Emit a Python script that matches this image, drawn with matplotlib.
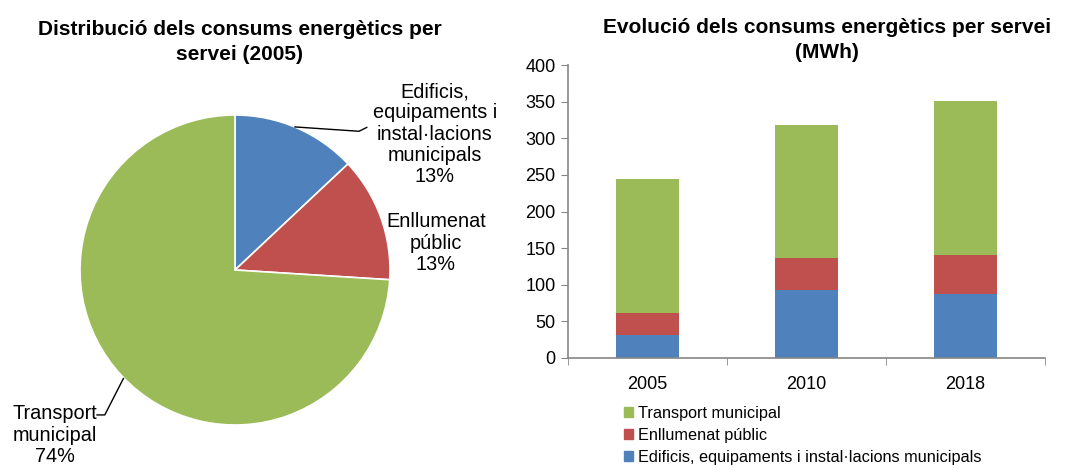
import matplotlib
matplotlib.use("Agg")
import matplotlib.pyplot as plt
from matplotlib.patches import Patch

plt.rcParams["font.family"] = ["Liberation Sans", "DejaVu Sans"]

# dades
anys = ["2005", "2010", "2018"]
edificis = [31, 93, 88]
enllumenat = [31, 43, 53]
transport = [183, 182, 210]

pie_pct = [13, 13, 74]
pie_noms = ["Edificis,\nequipaments i\ninstal·lacions\nmunicipals", "Enllumenat\npúblic",
            "Transport\nmunicipal"]

c_blau = "#4F81BD"
c_verm = "#C0504D"
c_verd = "#9BBB59"

W, H = 1065, 467
fig = plt.figure(figsize=(W / 100, H / 100), dpi=100)


def rect(x0, y0, x1, y1):
    # pixels (origen a dalt a l'esquerra) -> fraccio de figura
    return [x0 / W, 1 - y1 / H, (x1 - x0) / W, (y1 - y0) / H]


# --- pastis ---
ax1 = fig.add_axes(rect(80, 115, 390, 425))
ax1.pie(pie_pct, colors=[c_blau, c_verm, c_verd], startangle=90, counterclock=False,
        radius=1, wedgeprops=dict(edgecolor="white", linewidth=1.2))
ax1.set_xlim(-1, 1)
ax1.set_ylim(-1, 1)
ax1.set_aspect("equal")

posicions = [(1.29, 0.877), (1.296, 0.174), (-1.16, -1.065)]
for nom, p, (x, y) in zip(pie_noms, pie_pct, posicions):
    ax1.text(x, y, f"{nom}\n{p}%", ha="center", va="center", fontsize=14.3,
             linespacing=1.15, clip_on=False)

ax1.plot([0.387, 0.80, 0.85], [0.923, 0.895, 0.92], color="black", lw=1, clip_on=False)
ax1.plot([-0.72, -0.84, -0.89], [-0.70, -0.935, -0.935], color="black", lw=1, clip_on=False)

fig.text(240 / W, 1 - 42 / H, "Distribució dels consums energètics per\nservei (2005)",
         ha="center", va="center", fontsize=15, fontweight="bold", linespacing=1.45)

# --- barres ---
ax2 = fig.add_axes(rect(568, 65, 1045, 358))
x = range(len(anys))
amp = 0.39
ax2.bar(x, edificis, amp, color=c_blau)
base2 = [a for a in edificis]
ax2.bar(x, enllumenat, amp, bottom=base2, color=c_verm)
base3 = [a + b for a, b in zip(edificis, enllumenat)]
ax2.bar(x, transport, amp, bottom=base3, color=c_verd)

ax2.set_xlim(-0.5, 2.5)
ax2.set_ylim(0, 400)
ax2.set_yticks(range(0, 401, 50))
ax2.set_xticks(list(x))
ax2.set_xticklabels(anys)
ax2.set_xticks([-0.5, 0.5, 1.5, 2.5], minor=True)
ax2.tick_params(axis="x", which="major", length=0, pad=13, labelsize=13)
ax2.tick_params(axis="x", which="minor", length=5, direction="out", color="#868686")
ax2.tick_params(axis="y", length=5, direction="out", color="#868686", labelsize=13, pad=4)
for s in ["top", "right"]:
    ax2.spines[s].set_visible(False)
for s in ["left", "bottom"]:
    ax2.spines[s].set_color("#868686")
    ax2.spines[s].set_linewidth(1.2)

fig.text(827 / W, 1 - 40 / H, "Evolució dels consums energètics per servei\n(MWh)",
         ha="center", va="center", fontsize=15, fontweight="bold", linespacing=1.45)

handles = [Patch(color=c_verd), Patch(color=c_verm), Patch(color=c_blau)]
etiq = ["Transport municipal", "Enllumenat públic",
        "Edificis, equipaments i instal·lacions municipals"]
fig.legend(handles, etiq, loc="upper left", bbox_to_anchor=(624 / W, 1 - 406 / H),
           frameon=False, fontsize=11.7, handlelength=0.55, handleheight=0.55,
           handletextpad=0.3, labelspacing=0.42, borderpad=0, borderaxespad=0)

fig.savefig("out.png", dpi=100)
